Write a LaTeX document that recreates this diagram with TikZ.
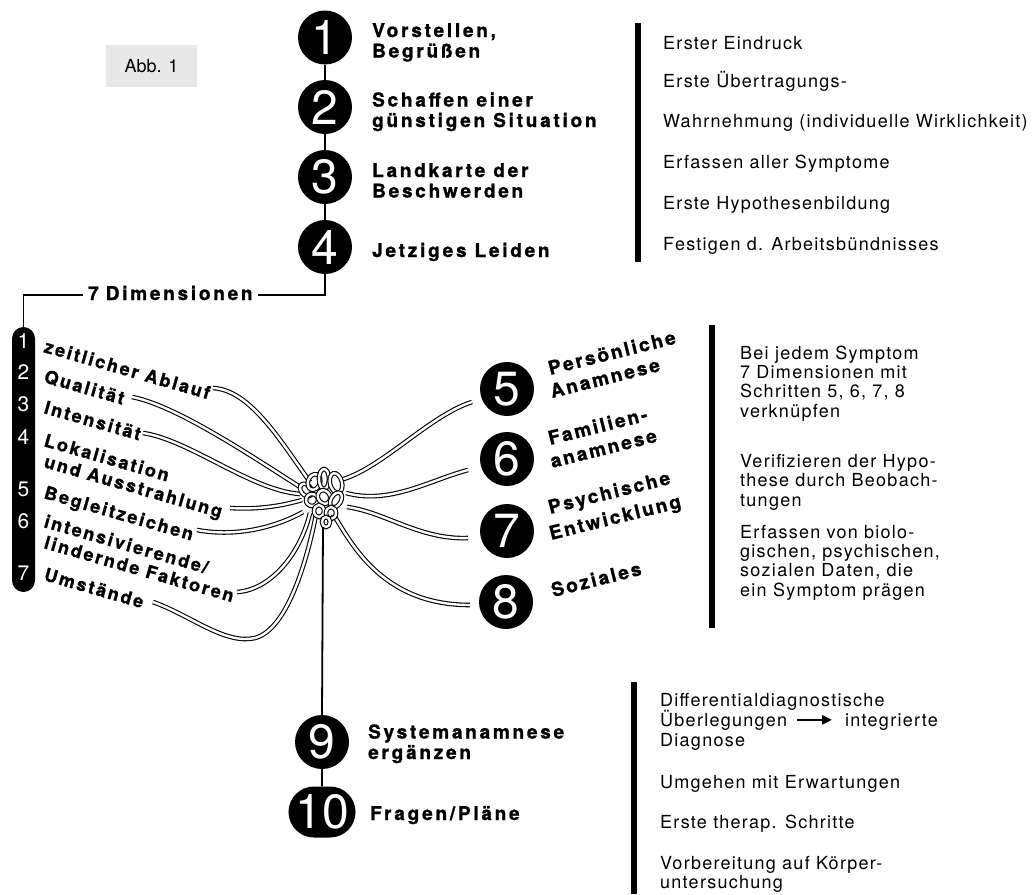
\documentclass[tikz,border=0pt]{standalone}
\usepackage{fontspec}
\setmainfont{TeX Gyre Heros}
\newfontfamily\bsp{TeX Gyre Heros}[LetterSpace=12,BoldFeatures={FakeBold=1.2}]
\newfontfamily\bwide{TeX Gyre Heros}[LetterSpace=14.5,BoldFeatures={FakeBold=1.2}]
\newfontfamily\rsp{TeX Gyre Heros}[LetterSpace=7]
\usetikzlibrary{shapes.misc,arrows.meta}
\begin{document}
\begin{tikzpicture}[x=1pt,y=-1pt,
  conn/.style={line width=1.8pt},
  sepbar/.style={line width=6pt},
  num/.style={circle, fill=black, minimum size=54pt, inner sep=0pt, text=white, font=\fontsize{48}{48}\selectfont},
  pilldig/.style={text=white, inner sep=0pt, font=\fontsize{21}{21}\selectfont},
  blbl/.style={inner sep=0pt, anchor=base west, align=left, font=\bwide\bfseries\fontsize{19}{20.5}\selectfont},
  dlbl/.style={inner sep=0pt, anchor=base west, rotate=-16, font=\bsp\bfseries\fontsize{18}{20}\selectfont},
  rlbl/.style={inner sep=0pt, anchor=base west, rotate=14, font=\bsp\bfseries\fontsize{19}{20}\selectfont},
  txt/.style={inner sep=0pt, anchor=base west, align=left, font=\rsp\fontsize{18}{19.3}\selectfont},
  tube/.style={draw=black, line width=1.1pt, double=white, double distance=2.4pt},
]
\useasboundingbox (0,0) rectangle (1035,894);
\fill[white] (0,0) rectangle (1035,894);

% figure tag
\node[fill=black!9, minimum width=91pt, minimum height=42pt, inner sep=0pt, font=\fontsize{18}{18}\selectfont] (abb) at (151.5,66) {Abb. 1};

% steps 1-4
\node[num] (c1) at (325,37.5) {1};
\node[num] (c2) at (325,107) {2};
\node[num] (c3) at (325,177) {3};
\node[num] (c4) at (325,247) {4};
\draw[conn] (c1) -- (c2);
\draw[conn] (c2) -- (c3);
\draw[conn] (c3) -- (c4);

% (base anchor of a multi-line node = baseline of its last line)
\node[blbl] (l1) at (372,57.5) {Vorstellen,\\Begrüßen};
\node[blbl] (l2) at (372,127) {Schaffen einer\\günstigen Situation};
\node[blbl] (l3) at (372,197.5) {Landkarte der\\Beschwerden};
\node[blbl] (l4) at (372,257) {Jetziges Leiden};

% top right notes
\draw[sepbar] (638,23) -- (638,262);
\node[txt] (t1) at (663,49) {Erster Eindruck};
\node[txt] (t2) at (663,87) {Erste Übertragungs-};
\node[txt] (t3) at (663,127) {Wahrnehmung (individuelle Wirklichkeit)};
\node[txt] (t4) at (663,168) {Erfassen aller Symptome};
\node[txt] (t5) at (663,209) {Erste Hypothesenbildung};
\node[txt] (t6) at (663,250) {Festigen d. Arbeitsbündnisses};

% 7 Dimensionen
\node[blbl] (dim) at (88,300) {7\hspace{7pt}Dimensionen};
\node[fill=black, rounded corners=11.5pt, minimum width=23pt, minimum height=265pt, inner sep=0pt] (pill) at (23.5,459.5) {};
\draw[conn] (c4.south) |- ([xshift=5pt,yshift=-2pt]dim.east);
\draw[conn] ([xshift=-5pt,yshift=-2pt]dim.west) -| (pill.north);

\node[pilldig] (p1) at (23.5,341) {1};
\node[pilldig] (p2) at (23.5,372) {2};
\node[pilldig] (p3) at (23.5,404) {3};
\node[pilldig] (p4) at (23.5,437) {4};
\node[pilldig] (p5) at (23.5,489) {5};
\node[pilldig] (p6) at (23.5,521) {6};
\node[pilldig] (p7) at (23.5,573) {7};

\node[dlbl] (d1) at (43,352) {zeitlicher Ablauf};
\node[dlbl] (d2) at (43,382) {Qualität};
\node[dlbl] (d3) at (43,413) {Intensität};
\node[dlbl] (d4a) at (43,446) {Lokalisation};
\node[dlbl] (d4b) at (43,467) {und Ausstrahlung};
\node[dlbl] (d5) at (43,498) {Begleitzeichen};
\node[dlbl] (d6a) at (43,527) {intensivierende/};
\node[dlbl] (d6b) at (43,548) {lindernde Faktoren};
\node[dlbl] (d7) at (43,580) {Umstände};

% steps 5-8
\node[num] (c5) at (507,389) {5};
\node[num] (c6) at (507,459) {6};
\node[num] (c7) at (507,531) {7};
\node[num] (c8) at (506,602) {8};

\node[rlbl] (r5a) at (550,375) {Persönliche};
\node[rlbl] (r5b) at (552,398) {Anamnese};
\node[rlbl] (r6a) at (550,445) {Familien-};
\node[rlbl] (r6b) at (552,468) {anamnese};
\node[rlbl] (r7a) at (550,514) {Psychische};
\node[rlbl] (r7b) at (551,540) {Entwicklung};
\node[rlbl] (r8) at (553,597) {Soziales};

% strand ends
\coordinate (s1) at (213,388);
\coordinate (s2) at (132,397);
\coordinate (s3) at (143,433);
\coordinate (s4) at (230,508);
\coordinate (s5) at (197,530);
\coordinate (s6) at (237,592);
\coordinate (s7) at (153,602);
\coordinate (e5) at (472,402);
\coordinate (e6) at (468,470);
\coordinate (e7) at (468,538);
\coordinate (e8) at (470,605);
% knot attach points
\coordinate (k1) at (310,482);
\coordinate (k2) at (300,487);
\coordinate (k3) at (300,494);
\coordinate (k4) at (302,500);
\coordinate (k5) at (303,512);
\coordinate (k6) at (310,513);
\coordinate (k7) at (316,515);
\coordinate (q5) at (340,480);
\coordinate (q6) at (346,493);
\coordinate (q7) at (347,507);
\coordinate (q8) at (333,514);
\coordinate (kb) at (323,527);

% strands
\draw[tube] (s1) .. controls (250,390) and (280,440) .. (k1);
\draw[tube] (s2) .. controls (175,405) and (250,455) .. (k2);
\draw[tube] (s3) .. controls (190,440) and (250,490) .. (k3);
\draw[tube] (s4) .. controls (260,510) and (285,505) .. (k4);
\draw[tube] (s5) .. controls (240,538) and (280,525) .. (k5);
\draw[tube] (s6) .. controls (270,590) and (300,555) .. (k6);
\draw[tube] (s7) .. controls (190,615) and (225,645) .. (255,638) .. controls (285,630) and (305,570) .. (k7);
\draw[tube] (q5) .. controls (380,470) and (430,415) .. (e5);
\draw[tube] (q6) .. controls (390,505) and (430,480) .. (e6);
\draw[tube] (q7) .. controls (385,512) and (420,540) .. (e7);
\draw[tube] (q8) .. controls (350,540) and (380,605) .. (e8);

% knot (interlaced loops)
\draw[tube, rotate around={40:(306,490)}] (306,490) ellipse [x radius=5, y radius=7];
\draw[tube, rotate around={-20:(314,482)}] (314,482) ellipse [x radius=6, y radius=8];
\draw[tube] (324,479) ellipse [x radius=5, y radius=10];
\draw[tube, rotate around={15:(336,483)}] (336,483) ellipse [x radius=6, y radius=10];
\draw[tube] (312,500) ellipse [x radius=6, y radius=6];
\draw[tube, rotate around={30:(324,497)}] (324,497) ellipse [x radius=6, y radius=7];
\draw[tube, rotate around={-30:(336,500)}] (336,500) ellipse [x radius=5, y radius=8];
\draw[tube] (319,511) ellipse [x radius=5, y radius=6];
\draw[tube] (331,513) ellipse [x radius=5, y radius=6];
\draw[tube] (326,522) ellipse [x radius=4, y radius=5];

% steps 9-10
\node[num] (c9) at (322,742) {9};
\node[fill=black, rounded rectangle, minimum width=65pt, minimum height=51pt, inner sep=0pt, text=white, font=\fontsize{48}{48}\selectfont] (c10) at (322,812) {10};
\draw[conn] (kb) -- (c9.north);
\draw[conn] (c9) -- (c10);
\node[blbl] (l9) at (368,759) {Systemanamnese\\ergänzen};
\node[blbl] (l10) at (370,820) {Fragen/Pläne};

% middle right notes
\draw[sepbar] (712,325) -- (712,628);
\node[txt] (m1) at (740,417) {Bei jedem Symptom\\7 Dimensionen mit\\Schritten 5, 6, 7, 8\\verknüpfen};
\node[txt] (m2) at (740,506) {Verifizieren der Hypo-\\these durch Beobach-\\tungen};
\node[txt] (m3) at (740,596) {Erfassen von biolo-\\gischen, psychischen,\\sozialen Daten, die\\ein Symptom prägen};

% bottom right notes
\draw[sepbar] (633.5,682) -- (633.5,894);
\node[txt] (b1) at (660,706) {Differentialdiagnostische};
\node[txt] (b2) at (660,726) {Überlegungen};
\node[txt] (b3) at (845,726) {integrierte};
\node[txt] (b4) at (660,746) {Diagnose};
\coordinate (ae) at (b2.east -| b3.west);
\draw[line width=2.6pt, -{Triangle[length=10pt,width=9pt]}] ([xshift=10pt]b2.east) -- ([xshift=-13pt]ae);
\node[txt] (b5) at (660,788) {Umgehen mit Erwartungen};
\node[txt] (b6) at (660,828) {Erste therap. Schritte};
\node[txt, font=\rsp\fontsize{18}{18.5}\selectfont] (b7) at (660,888) {Vorbereitung auf Körper-\\untersuchung};
\end{tikzpicture}
\end{document}
